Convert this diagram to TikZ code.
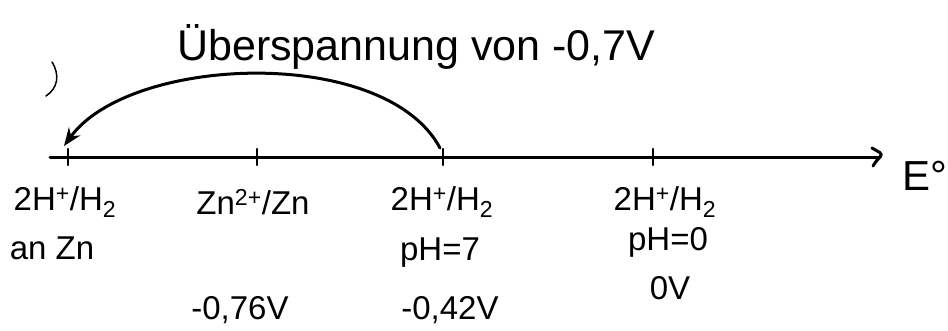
\documentclass[tikz,border=0pt]{standalone}
\usepackage{fontspec}
\setmainfont{Liberation Sans}
\usetikzlibrary{arrows.meta}
\begin{document}
\begin{tikzpicture}[x=1pt,y=-1pt,
  pen/.style={line width=3pt,line cap=round,line join=round},
  lbl/.style={inner sep=0pt,font=\fontsize{33}{36}\selectfont},
  ttl/.style={inner sep=0pt,font=\fontsize{43}{46}\selectfont}]
\useasboundingbox (0,0) rectangle (948,330);
% axis
\coordinate (ax0) at (50,157);
\coordinate (ax1) at (880,157);
\coordinate (t1) at (68,157);
\coordinate (t2) at (257,157);
\coordinate (t3) at (443,157);
\coordinate (t4) at (653,157);
\draw[pen] (ax0) -- (ax1);
\draw[pen] (ax1) ++(-8,-9) .. controls +(6,4) and +(4,-4) .. (ax1) .. controls +(-3,3) .. ++(-7,9);
\foreach \t in {t1,t2,t3,t4} \draw[pen,line width=2.2pt] (\t) ++(0,-8) -- ++(0,16);
\node[inner sep=0pt,font=\fontsize{42}{44}\selectfont,anchor=west] (E) at (902,176) {E°};
% labels
\node[lbl] (l1a) at (65,202) {2H\textsuperscript{+}/H\textsubscript{2}};
\node[lbl] (l1b) at (52,248) {an Zn};
\node[lbl] (l2a) at (253,202) {Zn\textsuperscript{2+}/Zn};
\node[lbl] (l2c) at (240,310) {-0,76V};
\node[lbl] (l3a) at (442,202) {2H\textsuperscript{+}/H\textsubscript{2}};
\node[lbl] (l3b) at (440,253) {pH=7};
\node[lbl] (l3c) at (450,310) {-0,42V};
\node[lbl] (l4a) at (665,202) {2H\textsuperscript{+}/H\textsubscript{2}};
\node[lbl] (l4b) at (668,242) {pH=0};
\node[lbl] (l4c) at (670,288) {0V};
% title
\node[ttl,anchor=west] (T) at (177,47) {Überspannung von -0,7V};
% overpotential arrow
\coordinate (a3) at (440,148);
\coordinate (a1) at (64,146);
\draw[pen,-{Stealth[length=18pt,width=14pt]}] (a3) .. controls (385,45) and (130,55) .. (a1);
% stray mark
\coordinate (s0) at (52,62);
\coordinate (s1) at (46,96);
\draw[pen,line width=1.5pt] (s0) .. controls (60,75) and (58,88) .. (s1);
\end{tikzpicture}
\end{document}
